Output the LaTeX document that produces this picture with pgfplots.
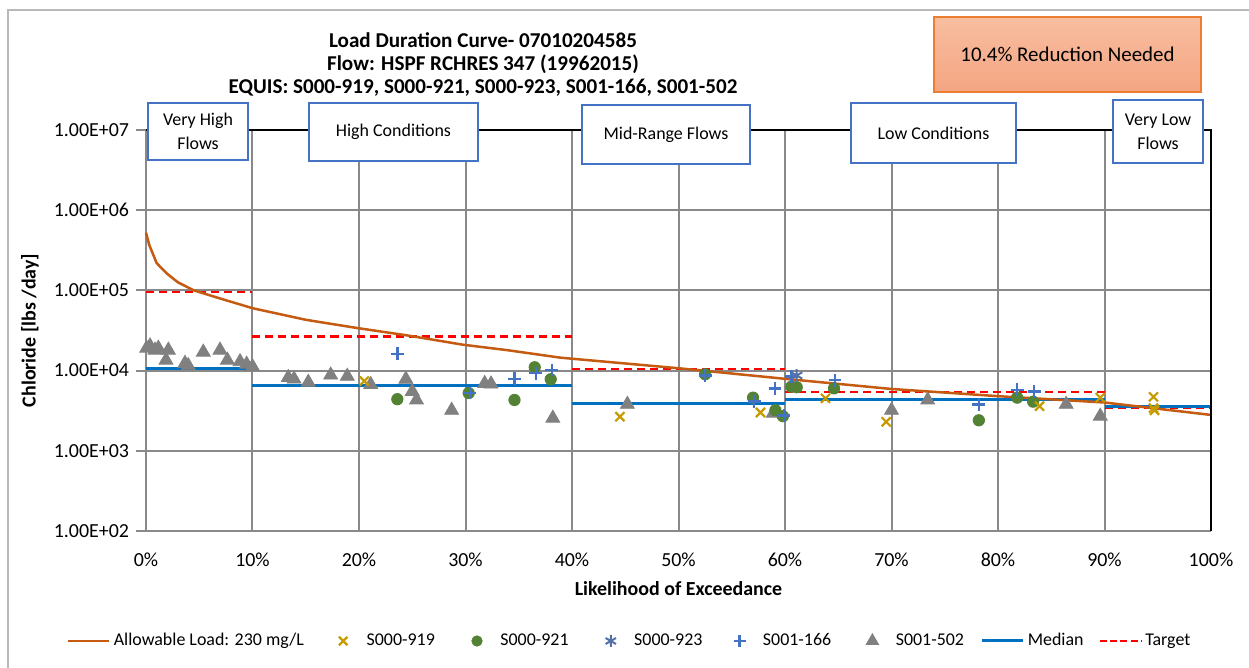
\documentclass[border=0pt]{standalone}
\usepackage{fontspec}
\setmainfont{Carlito}
\usepackage{pgfplots}
\pgfplotsset{compat=1.18}
\pgfplotsset{
  longline legend/.style={legend image code/.code={%
    \path (0bp,0bp) (22bp,0bp); \draw[##1] (0bp,0bp) -- (20.5bp,0bp);}},
  mark legend/.style={legend image code/.code={%
    \path (0bp,0bp) (23bp,0bp);
    \draw[mark repeat=2,mark phase=2,##1] plot coordinates {(0bp,0bp) (11.5bp,0bp) (23bp,0bp)};}},
}

\definecolor{allowbrown}{RGB}{197,90,17}
\definecolor{goldx}{RGB}{197,155,0}
\definecolor{greendot}{RGB}{84,130,53}
\definecolor{blueplus}{RGB}{68,114,196}
\definecolor{bluestar}{RGB}{84,112,168}
\definecolor{tri}{RGB}{128,128,128}
\definecolor{medblue}{RGB}{0,112,192}
\definecolor{gridgray}{RGB}{137,137,137}
\definecolor{boxblue}{RGB}{68,114,196}
\definecolor{salmonA}{RGB}{248,190,160}
\definecolor{salmonB}{RGB}{244,165,130}
\definecolor{orangeedge}{RGB}{237,125,49}

\begin{document}
\begin{tikzpicture}
\useasboundingbox (-73bp,-68.5bp) rectangle (551.5bp,265.5bp);
\fill[white] (-73bp,-68.5bp) rectangle (551.5bp,265.5bp);
% chart-area frame
\draw[gray!55, line width=0.7bp] (-69bp,-70bp) -- (-69bp,260.5bp) -- (560bp,260.5bp);

\begin{axis}[
  scale only axis, width=532.5bp, height=200.5bp,
  at={(0,0)}, anchor=south west,
  xmin=0, xmax=100, ymode=log, ymin=100, ymax=1e7,
  xtick={0,10,...,100},
  xticklabels={0\%,10\%,20\%,30\%,40\%,50\%,60\%,70\%,80\%,90\%,100\%},
  ytick={1e2,1e3,1e4,1e5,1e6,1e7},
  yticklabels={1.00E+02,1.00E+03,1.00E+04,1.00E+05,1.00E+06,1.00E+07},
  yminorticks=false, xminorticks=false,
  grid=major, grid style={color=gridgray, line width=1bp},
  axis line style={draw=none},
  tick label style={font=\fontsize{10}{12}\selectfont},
  xticklabel style={yshift=-2.5bp},
  xtick style={draw=none},
  ytick style={color=gridgray, line width=1bp},
  ytick pos=left, tick align=outside, major tick length=5bp,
  xlabel={\bfseries Likelihood of Exceedance},
  ylabel={\bfseries Chloride [lbs /day]},
  label style={font=\fontsize{10}{12}\selectfont},
  xlabel style={at={(axis description cs:0.5,-0.1446)}, anchor=center},
  ylabel style={at={(axis description cs:-0.1089,0.5)}, anchor=center},
  clip=false,
  legend columns=8,
  legend style={draw=none, fill=none, at={(-0.07418,-0.2743)}, anchor=west,
    inner xsep=0pt, inner ysep=0pt, outer sep=0pt,
    nodes={inner sep=0pt, outer sep=0pt},
    column sep=0pt,
    font=\fontsize{9}{11}\selectfont},
  legend cell align=left,
]

% Target (dashed) by flow zone
\addplot[red, line width=1.25bp, dash pattern=on 4bp off 2.5bp, forget plot] coordinates {(0,9.5e4) (10,9.5e4)};
\addplot[red, line width=1.25bp, dash pattern=on 4bp off 2.5bp, forget plot] coordinates {(10,2.68e4) (40,2.68e4)};
\addplot[red, line width=1.25bp, dash pattern=on 4bp off 2.5bp, forget plot] coordinates {(40,1.05e4) (60,1.05e4)};
\addplot[red, line width=1.25bp, dash pattern=on 4bp off 2.5bp, forget plot] coordinates {(60,5.4e3) (90,5.4e3)};
\addplot[red, line width=1.25bp, dash pattern=on 4bp off 2.5bp, forget plot] coordinates {(90,3.45e3) (100,3.45e3)};

% Median by flow zone
\addplot[medblue, line width=1.5bp, forget plot] coordinates {(0,1.07e4) (10,1.07e4)};
\addplot[medblue, line width=1.5bp, forget plot] coordinates {(10,6.6e3) (40,6.6e3)};
\addplot[medblue, line width=1.5bp, forget plot] coordinates {(40,3.84e3) (60,3.84e3)};
\addplot[medblue, line width=1.5bp, forget plot] coordinates {(60,4.3e3) (90,4.3e3)};
\addplot[medblue, line width=1.5bp, forget plot] coordinates {(90,3.55e3) (100,3.55e3)};

% Allowable load curve
\addplot[allowbrown, line width=1.25bp, forget plot] coordinates {
 (0,5.25e5) (0.3,3.7e5) (1,2.19e5) (1.94,1.63e5) (3,1.26e5) (4.5,1.0e5) (7,7.9e4)
 (10,6.0e4) (15,4.3e4) (19.8,3.4e4) (24.5,2.75e4) (29.8,2.1e4) (33.9,1.8e4)
 (38.9,1.45e4) (50,1.07e4) (60,7.9e3) (70,5.9e3) (80,4.8e3) (90,4.0e3) (100,2.8e3)};

% S001-502
\addplot[only marks, mark=triangle*, mark size=4bp, mark options={fill=tri, draw=tri}, forget plot] coordinates {
 (0.06,1.9e4) (0.38,2.03e4) (0.85,1.8e4) (1.16,1.9e4) (2.1,1.8e4) (1.88,1.35e4)
 (3.66,1.23e4) (3.97,1.15e4) (5.38,1.7e4) (6.95,1.8e4) (7.64,1.35e4) (8.83,1.29e4)
 (9.45,1.2e4) (10.0,1.12e4)
 (13.36,8.2e3) (13.9,7.85e3) (15.24,7.15e3) (17.34,8.8e3) (18.9,8.5e3) (21.1,6.7e3)
 (24.4,7.8e3) (25.0,5.5e3) (25.4,4.3e3) (28.7,3.2e3) (31.8,6.9e3) (32.4,6.8e3) (38.2,2.55e3)
 (45.2,3.8e3) (58.9,2.95e3) (70.0,3.2e3) (73.4,4.3e3) (86.4,3.8e3) (89.6,2.7e3)};

% S000-921
\addplot[only marks, mark=*, mark size=2.85bp, mark options={fill=greendot, draw=greendot}, forget plot] coordinates {
 (23.6,4.4e3) (30.3,5.25e3) (34.6,4.3e3) (36.5,1.1e4) (38.0,7.8e3) (52.5,9.0e3)
 (57.0,4.6e3) (59.1,3.2e3) (59.8,2.7e3) (60.6,6.3e3) (61.1,6.2e3) (64.6,6.0e3)
 (78.2,2.4e3) (81.8,4.6e3) (83.3,4.1e3)};

% S000-919
\addplot[only marks, mark=x, mark size=3.2bp, mark options={draw=goldx, line width=1.1bp}, forget plot] coordinates {
 (20.5,7.4e3) (44.5,2.66e3) (57.7,3.0e3) (63.8,4.5e3) (69.5,2.3e3) (83.9,3.6e3)
 (89.6,4.6e3) (94.6,4.7e3) (94.6,3.4e3) (94.7,3.2e3)};

% S001-166
\addplot[only marks, mark=+, mark size=3.2bp, mark options={draw=blueplus, line width=1.2bp}, forget plot] coordinates {
 (23.6,1.62e4) (30.4,5.25e3) (34.6,7.9e3) (36.6,9.3e3) (38.1,1.02e4) (52.5,8.7e3)
 (57.1,4.1e3) (59.06,6.0e3) (59.9,2.75e3) (60.6,8.4e3) (64.7,7.6e3) (78.2,3.8e3)
 (81.8,5.75e3) (83.4,5.5e3)};

% S000-923
\addplot[only marks, mark=asterisk, mark size=3.2bp, mark options={draw=bluestar, line width=1bp}, forget plot] coordinates {
 (61.1,8.7e3)};

% plot-area border
\draw[black, line width=1.2bp] (rel axis cs:0,1) -- (rel axis cs:1,1) -- (rel axis cs:1,0);

% legend
\addlegendimage{longline legend, allowbrown, line width=1.4bp}
\addlegendimage{mark legend, only marks, mark=x, mark size=3bp, mark options={draw=goldx, line width=1.1bp}}
\addlegendimage{mark legend, only marks, mark=*, mark size=2.6bp, mark options={fill=greendot, draw=greendot}}
\addlegendimage{mark legend, only marks, mark=asterisk, mark size=3bp, mark options={draw=bluestar, line width=1bp}}
\addlegendimage{mark legend, only marks, mark=+, mark size=3bp, mark options={draw=blueplus, line width=1.2bp}}
\addlegendimage{mark legend, only marks, mark=triangle*, mark size=3.6bp, mark options={fill=tri, draw=tri}}
\addlegendimage{longline legend, medblue, line width=1.5bp}
\addlegendimage{longline legend, red, line width=1.25bp, dash pattern=on 3.5bp off 1.6bp}
\legend{\makebox[103bp][l]{Allowable Load: 230 mg/L},
  \makebox[43.5bp][l]{S000-919}, \makebox[43.5bp][l]{S000-921},
  \makebox[41bp][l]{S000-923}, \makebox[43bp][l]{S001-166},
  \makebox[42.5bp][l]{S001-502}, \makebox[35.5bp][l]{Median}, Target}
\end{axis}

% title
\begin{scope}[every node/.style={font=\bfseries\fontsize{10.6}{12}\selectfont}]
\node at (168.5bp,245.5bp) {Load Duration Curve- 07010204585};
\node at (168.5bp,233.5bp) {Flow: HSPF RCHRES 347 (19962015)};
\node at (168.5bp,221.5bp) {EQUIS: S000-919, S000-921, S000-923, S001-166, S001-502};
\end{scope}

% flow-zone boxes
\begin{scope}[every node/.style={font=\fontsize{9}{11}\selectfont, align=center}]
\draw[boxblue, line width=0.9bp, fill=white] (1bp,185.5bp) rectangle (51bp,214bp);
\node at (26bp,199.75bp) {Very High\\[1bp]Flows};
\draw[boxblue, line width=0.9bp, fill=white] (81.5bp,185bp) rectangle (166bp,214bp);
\node at (123.75bp,199.5bp) {High Conditions};
\draw[boxblue, line width=0.9bp, fill=white] (218bp,183.5bp) rectangle (302bp,213bp);
\node at (260bp,198.25bp) {Mid-Range Flows};
\draw[boxblue, line width=0.9bp, fill=white] (352.5bp,184bp) rectangle (435bp,214bp);
\node at (393.75bp,199bp) {Low Conditions};
\draw[boxblue, line width=0.9bp, fill=white] (483.5bp,184bp) rectangle (528.5bp,215.5bp);
\node at (506bp,199.75bp) {Very Low\\[1bp]Flows};
\end{scope}

% reduction callout
\shade[top color=salmonA, bottom color=salmonB] (394bp,219.5bp) rectangle (527.5bp,257bp);
\draw[orangeedge, line width=1bp] (394bp,219.5bp) rectangle (527.5bp,257bp);
\node[font=\fontsize{10.5}{12}\selectfont] at (460.75bp,238.25bp) {10.4\% Reduction Needed};
\end{tikzpicture}
\end{document}
